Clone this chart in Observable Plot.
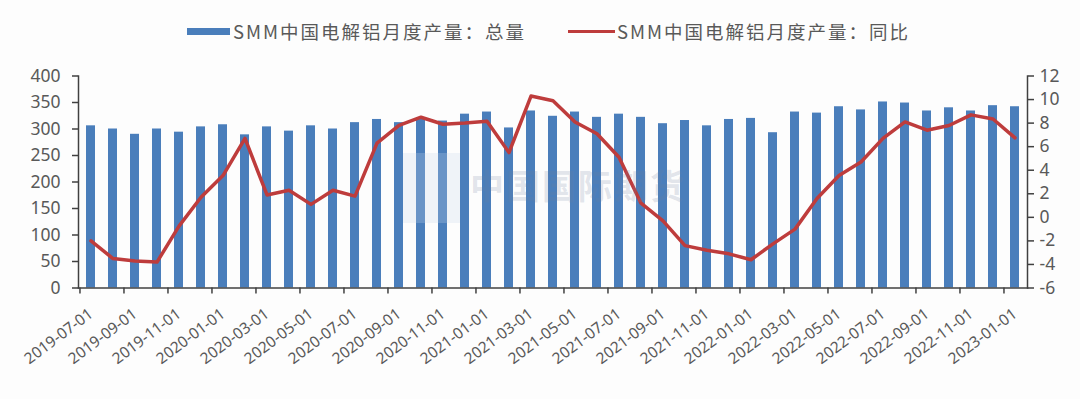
<!DOCTYPE html>
<html>
<head>
<meta charset="utf-8">
<script src="https://cdn.jsdelivr.net/npm/d3@7"></script>
<script src="https://cdn.jsdelivr.net/npm/@observablehq/plot@0.6"></script>
<style>
  html, body { margin: 0; padding: 0; background: #fdfdfd; }
  #wrap { position: relative; width: 1080px; height: 399px; font-family: "Noto Sans CJK SC", "Noto Sans", sans-serif; color: #595959; }
  #legend { position: relative; height: 50px; width: 1080px; }
  .item { position: absolute; top: 6px; height: 50px; display: flex; align-items: center; }
  .lab { font-size: 18.5px; letter-spacing: 2px; white-space: nowrap; color: #595959; }
  #wm { position: absolute; left: 0; top: 0; width: 1080px; height: 399px; pointer-events: none; }
</style>
</head>
<body>
<div id="wrap">
  <div id="legend"></div>
  <div id="chart"></div>
  <div id="wm"></div>
</div>
<script>
const months = [
  "2019-07-01","2019-08-01","2019-09-01","2019-10-01","2019-11-01","2019-12-01",
  "2020-01-01","2020-02-01","2020-03-01","2020-04-01","2020-05-01","2020-06-01",
  "2020-07-01","2020-08-01","2020-09-01","2020-10-01","2020-11-01","2020-12-01",
  "2021-01-01","2021-02-01","2021-03-01","2021-04-01","2021-05-01","2021-06-01",
  "2021-07-01","2021-08-01","2021-09-01","2021-10-01","2021-11-01","2021-12-01",
  "2022-01-01","2022-02-01","2022-03-01","2022-04-01","2022-05-01","2022-06-01",
  "2022-07-01","2022-08-01","2022-09-01","2022-10-01","2022-11-01","2022-12-01",
  "2023-01-01"
];
const totalOutput = [
  306, 300, 290, 300, 294, 304,
  308, 289, 304, 296, 306, 300, 312, 318, 312, 318, 315, 328,
  332, 302, 334, 324, 332, 322, 328, 322, 310, 316, 306, 318,
  320, 293, 332, 330, 342, 336, 351, 349, 334, 340, 334, 344,
  342
];
const yoyGrowth = [
  -2.0, -3.5, -3.7, -3.8, -0.75, 1.7,
  3.55, 6.7, 1.9, 2.3, 1.1, 2.3, 1.8, 6.3, 7.8, 8.5, 7.9, 8.0,
  8.15, 5.5, 10.3, 9.9, 8.1, 7.1, 5.1, 1.2, -0.3, -2.4, -2.8, -3.1,
  -3.6, -2.25, -1.0, 1.6, 3.55, 4.7, 6.7, 8.1, 7.4, 7.8, 8.7, 8.35,
  6.75
];
const leftTicks = [0, 50, 100, 150, 200, 250, 300, 350, 400];
const rightTicks = [-6, -4, -2, 0, 2, 4, 6, 8, 10, 12];
const seriesNames = ["SMM中国电解铝月度产量：总量", "SMM中国电解铝月度产量：同比"];
const watermarkText = "中国国际期货";

const barColor = "#4a7ebb";
const lineColor = "#be3c3c";
const axisColor = "#404040";
const textColor = "#595959";

const leftMax = 400, rMin = -6, rMax = 12;
const toLeft = v => (v - rMin) / (rMax - rMin) * leftMax;
const fromLeft = y => y / leftMax * (rMax - rMin) + rMin;

const data = months.map((m, i) => ({month: m, total: totalOutput[i], yoy: yoyGrowth[i]}));
const labelMonths = months.filter((d, i) => i % 2 === 0);

const W = 1080, H = 349, mL = 78, mR = 53, mT = 25.5, mB = 111.5;
const step = (W - mL - mR) / months.length;

// legend
const legend = document.getElementById("legend");
legend.innerHTML = `
  <div class="item" style="left:187px"><div style="width:43px;height:7px;background:${barColor};margin-right:3px"></div><span class="lab">${seriesNames[0]}</span></div>
  <div class="item" style="left:568px"><div style="width:47px;height:3px;background:${lineColor};margin-right:2px"></div><span class="lab">${seriesNames[1]}</span></div>
`;

const chart = Plot.plot({
  width: W,
  height: H,
  marginLeft: mL,
  marginRight: mR,
  marginTop: mT,
  marginBottom: mB,
  style: {background: "transparent", color: textColor, fontFamily: "'Noto Sans', 'Noto Sans CJK SC', sans-serif"},
  x: {type: "band", domain: months, paddingInner: 0.59, paddingOuter: 0.295},
  y: {domain: [0, leftMax]},
  marks: [
    Plot.barY(data, {x: "month", y: "total", fill: barColor}),
    Plot.lineY(data, {x: "month", y: d => toLeft(d.yoy), stroke: lineColor, strokeWidth: 3.5, strokeLinejoin: "round", strokeLinecap: "round"}),
    Plot.frame({anchor: "left", stroke: axisColor, strokeWidth: 1.5}),
    Plot.frame({anchor: "right", stroke: axisColor, strokeWidth: 1.5}),
    Plot.frame({anchor: "bottom", stroke: axisColor, strokeWidth: 1.5}),
    Plot.axisY({ticks: leftTicks, tickSize: 6, tickPadding: 12, label: null, fontSize: 17.5, stroke: axisColor, strokeWidth: 1.5, fill: textColor}),
    Plot.axisY({anchor: "right", ticks: rightTicks.map(toLeft), tickFormat: v => String(Math.round(fromLeft(v))), tickSize: 6, tickPadding: 6, label: null, fontSize: 17.5, stroke: axisColor, strokeWidth: 1.5, fill: textColor}),
    Plot.axisX({ticks: labelMonths, tickSize: 6, tickFormat: () => "", dx: -step / 2, label: null, stroke: axisColor, strokeWidth: 1.5}),
    Plot.axisX({ticks: labelMonths, tickSize: 0, tickPadding: 24, tickRotate: -37, label: null, fontSize: 15.5, fill: textColor})
  ]
});
document.getElementById("chart").appendChild(chart);

// watermark
document.getElementById("wm").innerHTML = `
  <div style="position:absolute;left:403px;top:153px;width:57px;height:70px;background:rgba(200,215,236,0.25)"></div>
  <div style="position:absolute;left:470px;top:160px;font-size:34px;font-weight:bold;letter-spacing:2px;color:rgba(110,130,160,0.2);white-space:nowrap">${watermarkText}</div>
`;
</script>
</body>
</html>
